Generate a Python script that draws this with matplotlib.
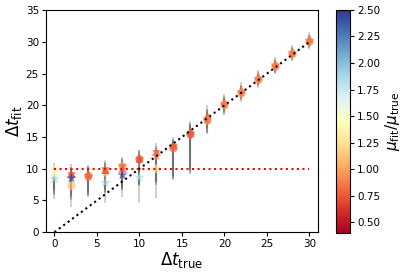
import numpy as np
import matplotlib
matplotlib.use("Agg")
import matplotlib.pyplot as plt

dt_true = [0, 2, 4, 6, 8, 10, 12, 14, 16, 18, 20, 22, 24, 26, 28, 30]

# asymmetric error sizes (below, above) per dt_true
err_lo = [3.2, 3.4, 3.0, 3.2, 3.4, 4.0, 4.6, 5.0, 6.0, 2.0, 1.3, 1.1, 1.0, 1.0, 0.9, 0.9]
err_hi = [1.0, 1.5, 1.5, 1.5, 1.5, 1.4, 1.3, 1.2, 1.6, 1.6, 1.2, 1.1, 1.0, 1.0, 0.9, 0.9]

# circles
circ_y = [9.9, 7.3, 8.9, 9.4, 10.4, 11.5, 10.0, 13.2, 15.4, 17.6, 20.0, 21.9, 24.0, 26.1, 28.1, 30.0]
circ_mu = [1.4, 1.1, 0.95, 1.25, 1.0, 0.8, 1.3, 0.85, 0.8, 0.9, 0.95, 0.95, 0.95, 0.95, 0.95, 0.95]

# triangles up
tup_y = [9.4, 9.2, 9.1, 9.8, 10.0, 11.6, 12.7, 13.8, 15.9, 18.4, 20.6, 22.5, 24.6, 26.6, 28.6, 30.6]
tup_mu = [1.4, 0.6, 0.75, 0.6, 0.75, 0.7, 0.85, 0.7, 0.7, 0.8, 0.8, 0.85, 0.85, 0.85, 0.85, 0.85]

# triangles down
tdn_y = [9.1, 8.8, 8.6, 9.6, 10.1, 11.2, 12.3, 13.3, 15.1, 17.4, 19.8, 21.7, 23.8, 25.9, 27.9, 29.8]
tdn_mu = [1.5, 0.75, 0.8, 0.8, 0.8, 0.75, 0.8, 0.75, 0.75, 0.85, 0.85, 0.85, 0.85, 0.85, 0.85, 0.85]

# stars
star_y = [8.4, 8.5, 8.7, 7.8, 9.0, 8.6, 12.0, 13.5, 15.6, 17.8, 20.2, 22.1, 24.2, 26.3, 28.3, 30.2]
star_mu = [1.9, 2.45, 0.8, 1.9, 2.45, 1.85, 0.85, 0.8, 0.8, 0.85, 0.9, 0.9, 0.9, 0.9, 0.9, 0.9]

fig = plt.figure(figsize=(4.03, 2.76), dpi=100)
ax = fig.add_axes([0.114, 0.159, 0.675, 0.804])
cax = fig.add_axes([0.833, 0.156, 0.0355, 0.808])

cmap = plt.get_cmap("RdYlBu")
norm = matplotlib.colors.Normalize(vmin=0.4, vmax=2.5)

series = [
    (circ_y, circ_mu, "o"),
    (tup_y, tup_mu, "^"),
    (tdn_y, tdn_mu, "v"),
    (star_y, star_mu, "*"),
]

for y, mu, m in series:
    ax.errorbar(dt_true, y, yerr=[err_lo, err_hi], fmt="none", ecolor="k", alpha=0.18, lw=1.5)
for y, mu, m in series:
    size = 60 if m == "*" else 35
    ax.scatter(dt_true, y, c=mu, cmap=cmap, norm=norm, marker=m, s=size,
               alpha=0.7, linewidths=0, zorder=3)

ax.plot([0, 30], [0, 30], ls=":", color="k", lw=1.5, zorder=4)
ax.plot([0, 30], [10, 10], ls=":", color="r", lw=1.5, zorder=4)

ax.set_xlim(-1, 31)
ax.set_ylim(0, 35)
ax.set_xticks(range(0, 31, 5))
ax.set_yticks(range(0, 36, 5))
ax.tick_params(labelsize=7.5, length=3, pad=2)
ax.set_xlabel(r"$\Delta t_{\rm true}$", fontsize=12, labelpad=1)
ax.set_ylabel(r"$\Delta t_{\rm fit}$", fontsize=12, labelpad=1)

sm = matplotlib.cm.ScalarMappable(norm=norm, cmap=cmap)
cb = fig.colorbar(sm, cax=cax)
cb.set_ticks([0.5, 0.75, 1.0, 1.25, 1.5, 1.75, 2.0, 2.25, 2.5])
cb.ax.tick_params(labelsize=7.5, length=3, pad=2)
cb.set_label(r"$\mu_{\rm fit}/\mu_{\rm true}$", fontsize=11, labelpad=2)

fig.savefig("out.png", dpi=100)
